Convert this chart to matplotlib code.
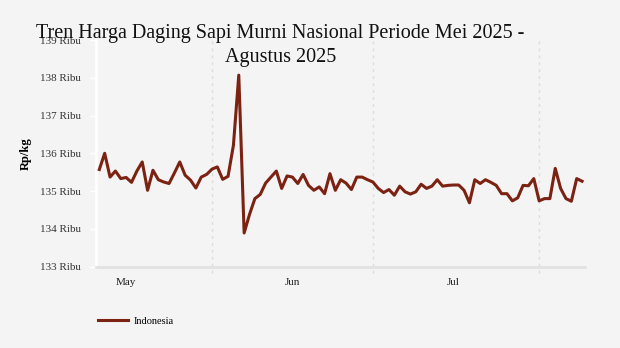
import pandas as pd
import matplotlib.pyplot as plt

# harga harian (ribu Rp/kg), 11 Mei - 9 Agustus 2025
harga = [
    135.57, 136.00, 135.37, 135.53, 135.33, 135.36, 135.23, 135.53, 135.77, 135.02,
    135.55, 135.30, 135.24, 135.20, 135.48, 135.77, 135.42, 135.29, 135.08, 135.37,
    135.44, 135.58, 135.64, 135.31, 135.39, 136.21, 138.07, 133.89, 134.38, 134.80,
    134.91, 135.21, 135.37, 135.53, 135.07, 135.40, 135.37, 135.20, 135.44, 135.15,
    135.02, 135.11, 134.93, 135.46, 135.02, 135.30, 135.21, 135.04, 135.37, 135.37,
    135.30, 135.24, 135.07, 134.96, 135.04, 134.89, 135.13, 134.98, 134.92, 134.98,
    135.18, 135.07, 135.13, 135.30, 135.13, 135.15, 135.16, 135.16, 135.02, 134.69,
    135.30, 135.20, 135.30, 135.23, 135.15, 134.93, 134.93, 134.74, 134.82, 135.15,
    135.14, 135.33, 134.74, 134.80, 134.80, 135.60, 135.07, 134.80, 134.73, 135.33,
    135.26,
]
tanggal = pd.date_range("2025-05-11", periods=len(harga), freq="D")

bulan_label = ["May", "Jun", "Jul"]
bulan_pos = pd.to_datetime(["2025-05-16", "2025-06-16", "2025-07-16"])
batas_bulan = pd.to_datetime(["2025-06-01", "2025-07-01", "2025-08-01"])
y_ticks = [133, 134, 135, 136, 137, 138, 139]

bg = "#f4f4f4"
warna = "#7b2212"

plt.rcParams["font.family"] = ["Liberation Serif", "DejaVu Serif"]

fig = plt.figure(figsize=(6.2, 3.48), dpi=100, facecolor=bg)
ax = fig.add_axes([0.155, 0.234, 0.789, 0.651], facecolor=bg)

for d in batas_bulan:
    ax.axvline(d, ymin=-0.03, ymax=1, color="#dcdcdc", linestyle=(0, (2, 3)),
               linewidth=1, clip_on=False, zorder=1)

ax.plot(tanggal, harga, color=warna, linewidth=2.2, label="Indonesia", zorder=3)

ax.set_ylim(133, 139)
ax.set_xlim(tanggal[0] - pd.Timedelta(days=0.6), tanggal[-1] + pd.Timedelta(days=0.6))

ax.set_yticks(y_ticks)
ax.set_yticklabels([f"{v} Ribu" for v in y_ticks], fontsize=8, color="#333333")
ax.tick_params(axis="y", length=4, width=1, color="white", pad=7)

ax.set_xticks(bulan_pos)
ax.set_xticklabels(bulan_label, fontsize=8, color="#222222")
ax.tick_params(axis="x", length=0, pad=8)

for s in ["top", "right"]:
    ax.spines[s].set_visible(False)
ax.spines["left"].set_color("white")
ax.spines["left"].set_linewidth(2)
ax.spines["bottom"].set_color("#e2e2e2")
ax.spines["bottom"].set_linewidth(2)

ax.set_ylabel("Rp/kg", fontsize=9, fontweight="bold", labelpad=6)

fig.text(0.452, 0.93, "Tren Harga Daging Sapi Murni Nasional Periode Mei 2025 -\nAgustus 2025",
         ha="center", va="top", fontsize=14.5, color="#111111", linespacing=1.3, zorder=5)

ax.legend(loc="lower left", bbox_to_anchor=(-0.005, -0.28), frameon=False, fontsize=7.5,
          handlelength=2.9, borderaxespad=0, handletextpad=0.5)

fig.savefig("out.png", dpi=100, facecolor=bg)
